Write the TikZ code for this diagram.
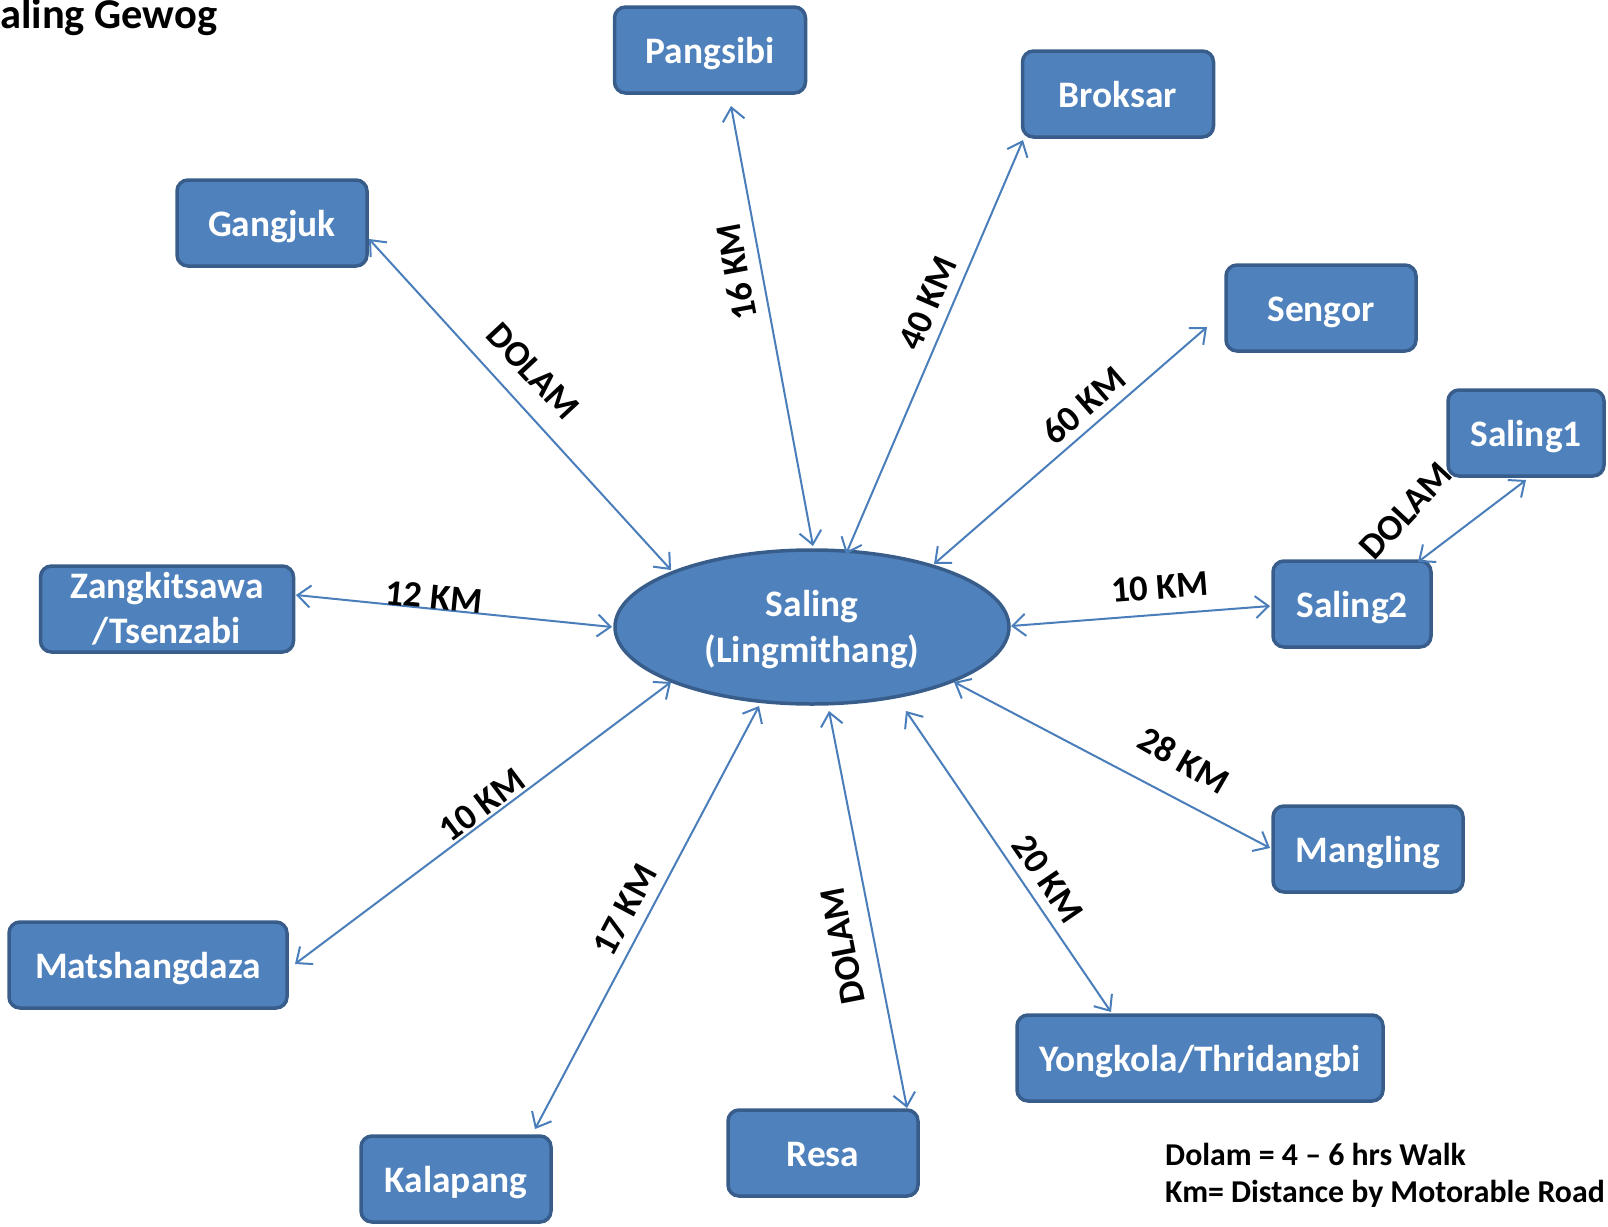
\documentclass[tikz,border=0pt]{standalone}
\usepackage{fontspec}
\setmainfont{Carlito}
\usetikzlibrary{shapes.geometric,arrows.meta}
\definecolor{boxfill}{HTML}{4F81BD}
\definecolor{boxline}{HTML}{385D8A}
\definecolor{linkcol}{HTML}{4A7EBB}
\begin{document}
\begin{tikzpicture}[x=1pt,y=-1pt,
 place/.style={draw=boxline, fill=boxfill, line width=3.5pt, rounded corners=11pt, text=white,
   font=\fontsize{37.4}{45}\selectfont\bfseries, inner sep=0pt, minimum height=86pt, align=center,
   text height=27pt, text depth=0pt},
 twoline/.style={text height=, text depth=},
 hub/.style={ellipse, draw=boxline, fill=boxfill, line width=3.5pt, text=white,
   font=\fontsize{37.4}{46}\selectfont\bfseries, inner sep=0pt, minimum width=394pt, minimum height=154pt, align=center,
   text depth=2pt},
 conn/.style={draw=linkcol, line width=2pt, {Straight Barb[length=13pt,width=22pt]}-{Straight Barb[length=13pt,width=22pt]}},
 lbl/.style={font=\fontsize{36.5}{42}\selectfont\bfseries, inner sep=0pt, text=black},
]
\useasboundingbox (0,0) rectangle (1608,1226);

\node[anchor=base west, inner sep=0pt, font=\fontsize{42.5}{50}\selectfont\bfseries] (title) at (0,28) {aling Gewog};

\node[hub] (hub) at (812,627) {Saling\\(Lingmithang)};
\node[place, minimum width=191pt] (pang) at (710,50) {Pangsibi};
\node[place, minimum width=191pt] (brok) at (1118,94) {Broksar};
\node[place, minimum width=190pt] (gang) at (272,223) {Gangjuk};
\node[place, minimum width=190pt] (seng) at (1321,308) {Sengor};
\node[place, minimum width=156pt] (sal1) at (1526,433) {Saling1};
\node[place, minimum width=158pt] (sal2) at (1352,604) {Saling2};
\node[place, twoline, minimum width=253pt] (zang) at (167,609) {Zangkitsawa\\/Tsenzabi};
\node[place, minimum width=190pt] (mang) at (1368,849) {Mangling};
\node[place, minimum width=278pt] (mats) at (148,965) {Matshangdaza};
\node[place, minimum width=366pt] (yong) at (1200,1058) {Yongkola/Thridangbi};
\node[place, minimum width=190pt] (resa) at (823,1153) {Resa};
\node[place, minimum width=190pt] (kala) at (456,1179) {Kalapang};

\draw[conn] ([shift={(21,56)}]pang.center) -- ([shift={(1,-81)}]hub.center);
\draw[conn] ([shift={(-95,46)}]brok.center) -- ([shift={(34,-73)}]hub.center);
\draw[conn] ([shift={(97,16)}]gang.center) -- ([shift={(-141,-57)}]hub.center);
\draw[conn] ([shift={(-114,19)}]seng.center) -- ([shift={(122,-63)}]hub.center);
\draw[conn] ([shift={(0,47)}]sal1.center) -- ([shift={(66,-42)}]sal2.center);
\draw[conn] ([shift={(129,-14)}]zang.center) -- ([shift={(-200,0)}]hub.center);
\draw[conn] ([shift={(-82,2)}]sal2.center) -- ([shift={(199,-1)}]hub.center);
\draw[conn] ([shift={(147,-1)}]mats.center) -- ([shift={(-141,55)}]hub.center);
\draw[conn] ([shift={(-98,-1)}]mang.center) -- ([shift={(142,55)}]hub.center);
\draw[conn] ([shift={(-89,-46)}]yong.center) -- ([shift={(94,84)}]hub.center);
\draw[conn] ([shift={(84,-45)}]resa.center) -- ([shift={(17,84)}]hub.center);
\draw[conn] ([shift={(79,-50)}]kala.center) -- ([shift={(-53,79)}]hub.center);

\node[lbl, rotate=-47] (l1) at (533,371) {DOLAM};
\node[lbl, rotate=100.6] (l2) at (736,272) {16 KM};
\node[lbl, rotate=66.8] (l3) at (928,303) {40 KM};
\node[lbl, rotate=41] (l4) at (1084,405) {60 KM};
\node[lbl, rotate=47] (l5) at (1406,511) {DOLAM};
\node[lbl, rotate=-5.8] (l6) at (434,597) {12 KM};
\node[lbl, rotate=4.4] (l7) at (1160,587) {10 KM};
\node[lbl, rotate=-30] (l8) at (1184,760) {28 KM};
\node[lbl, rotate=-55.7] (l9) at (1048,879) {20 KM};
\node[lbl, rotate=101] (l10) at (843,946) {DOLAM};
\node[lbl, rotate=62] (l11) at (625,910) {17 KM};
\node[lbl, rotate=37] (l12) at (482,805) {10 KM};

\node[anchor=base west, inner sep=0pt, align=left, font=\fontsize{31.8}{37}\selectfont\bfseries] (legend) at (1165,1202)
 {Dolam = 4 – 6 hrs Walk\\Km= Distance by Motorable Road};
\end{tikzpicture}
\end{document}
